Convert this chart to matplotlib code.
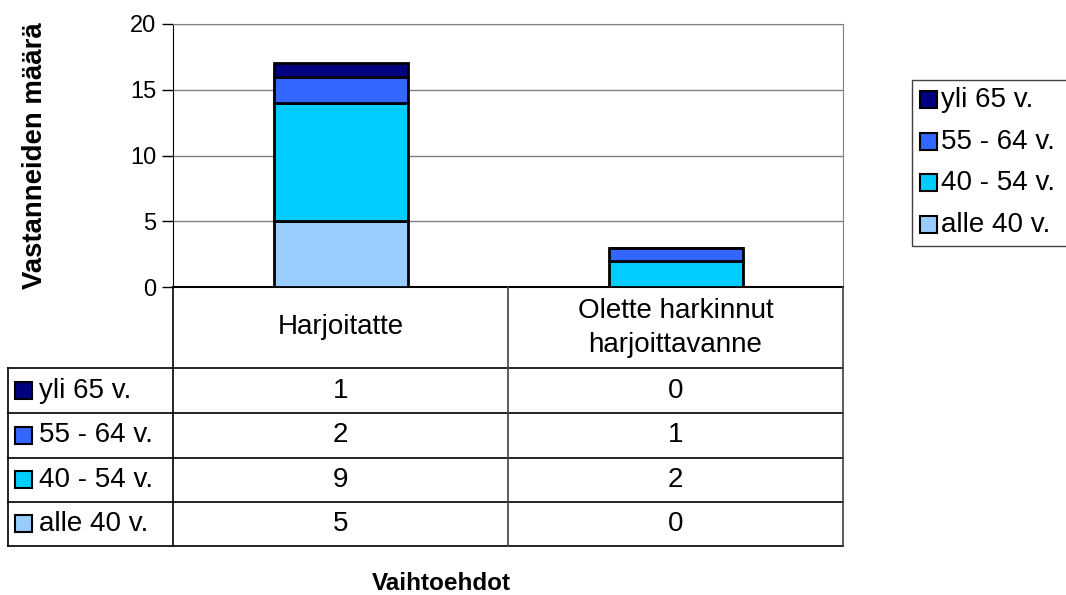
import numpy as np
import matplotlib
matplotlib.use("Agg")
import matplotlib.pyplot as plt
from matplotlib.patches import Rectangle
from matplotlib.lines import Line2D

plt.rcParams['font.family'] = ['Liberation Sans', 'DejaVu Sans']

categories = ["Harjoitatte", "Olette harkinnut\nharjoittavanne"]
groups = ["alle 40 v.", "40 - 54 v.", "55 - 64 v.", "yli 65 v."]
values = {
    "alle 40 v.": [5, 0],
    "40 - 54 v.": [9, 2],
    "55 - 64 v.": [2, 1],
    "yli 65 v.": [1, 0],
}
colors = {
    "alle 40 v.": "#99CCFF",
    "40 - 54 v.": "#00CCFF",
    "55 - 64 v.": "#3366FF",
    "yli 65 v.": "#000080",
}

W, H = 1066, 595
fig = plt.figure(figsize=(W / 100, H / 100), dpi=100)


def fx(x):
    return x / W


def fy(y):
    return 1 - y / H


# plot area in pixels
L, R, T, B = 173, 843, 24, 287
ax = fig.add_axes([fx(L), fy(B), fx(R) - fx(L), fy(T) - fy(B)])

x = np.arange(len(categories))
bottom = np.zeros(len(categories))
for g in groups:
    v = np.array(values[g], dtype=float)
    ax.bar(x, v, 0.4, bottom=bottom, color=colors[g], edgecolor="black",
           linewidth=2, zorder=3)
    bottom += v

ax.set_xlim(-0.5, len(categories) - 0.5)
ax.set_ylim(0, 20)
ax.set_yticks([0, 5, 10, 15, 20])
ax.set_xticks([])
ax.tick_params(axis="y", labelsize=17, length=8, width=1, direction="out", pad=4)
ax.yaxis.grid(True, color="#808080", linewidth=1)
ax.set_axisbelow(True)
for s in ["top", "right"]:
    ax.spines[s].set_color("#808080")
ax.spines["left"].set_color("black")
ax.spines["bottom"].set_color("black")
ax.spines["bottom"].set_linewidth(1.5)

ax.set_ylabel("Vastanneiden määrä", fontsize=19.8, fontweight="bold")
ax.yaxis.set_label_coords(-(L - 48) / (R - L), 0.5)


def hline(y, x0, x1, c="black", lw=1.2):
    fig.add_artist(Line2D([fx(x0), fx(x1)], [fy(y), fy(y)], color=c, lw=lw))


def vline(x0, y0, y1, c="black", lw=1.2):
    fig.add_artist(Line2D([fx(x0), fx(x0)], [fy(y0), fy(y1)], color=c, lw=lw))


# data table below the chart
TL = 8
rows_y = [368, 413, 458, 502, 546]
col_x = [L, 508, R]
for y in rows_y:
    hline(y, TL, R)
vline(TL, rows_y[0], rows_y[-1])
vline(L, B, rows_y[-1])
vline(508, B, rows_y[-1], c="#404040")
vline(R, B, rows_y[-1], c="#404040")

for i, c in enumerate(categories):
    cx = (col_x[i] + col_x[i + 1]) / 2
    fig.text(fx(cx), fy((B + rows_y[0]) / 2), c, ha="center", va="center",
             fontsize=20, linespacing=1.4)

for r, g in enumerate(groups[::-1]):
    yc = (rows_y[r] + rows_y[r + 1]) / 2
    fig.add_artist(Rectangle((fx(15), fy(yc + 8)), 17 / W, 17 / H,
                             transform=fig.transFigure, facecolor=colors[g],
                             edgecolor="black", lw=1.5))
    fig.text(fx(39), fy(yc), g, ha="left", va="center", fontsize=20)
    for i in range(len(categories)):
        cx = (col_x[i] + col_x[i + 1]) / 2
        fig.text(fx(cx), fy(yc), str(values[g][i]), ha="center", va="center",
                 fontsize=20)

fig.text(fx(441), fy(583), "Vaihtoehdot", ha="center", va="center",
         fontsize=17.5, fontweight="bold")

# legend on the right
fig.add_artist(Rectangle((fx(912), fy(246)), 200 / W, (246 - 80) / H,
                         transform=fig.transFigure, facecolor="white",
                         edgecolor="#404040", lw=1))
for k, g in enumerate(groups[::-1]):
    yc = 100 + k * 41.7
    fig.add_artist(Rectangle((fx(920), fy(yc + 8)), 17 / W, 17 / H,
                             transform=fig.transFigure, facecolor=colors[g],
                             edgecolor="black", lw=1.5))
    fig.text(fx(941), fy(yc), g, ha="left", va="center", fontsize=20)

fig.savefig("out.png", dpi=100)
